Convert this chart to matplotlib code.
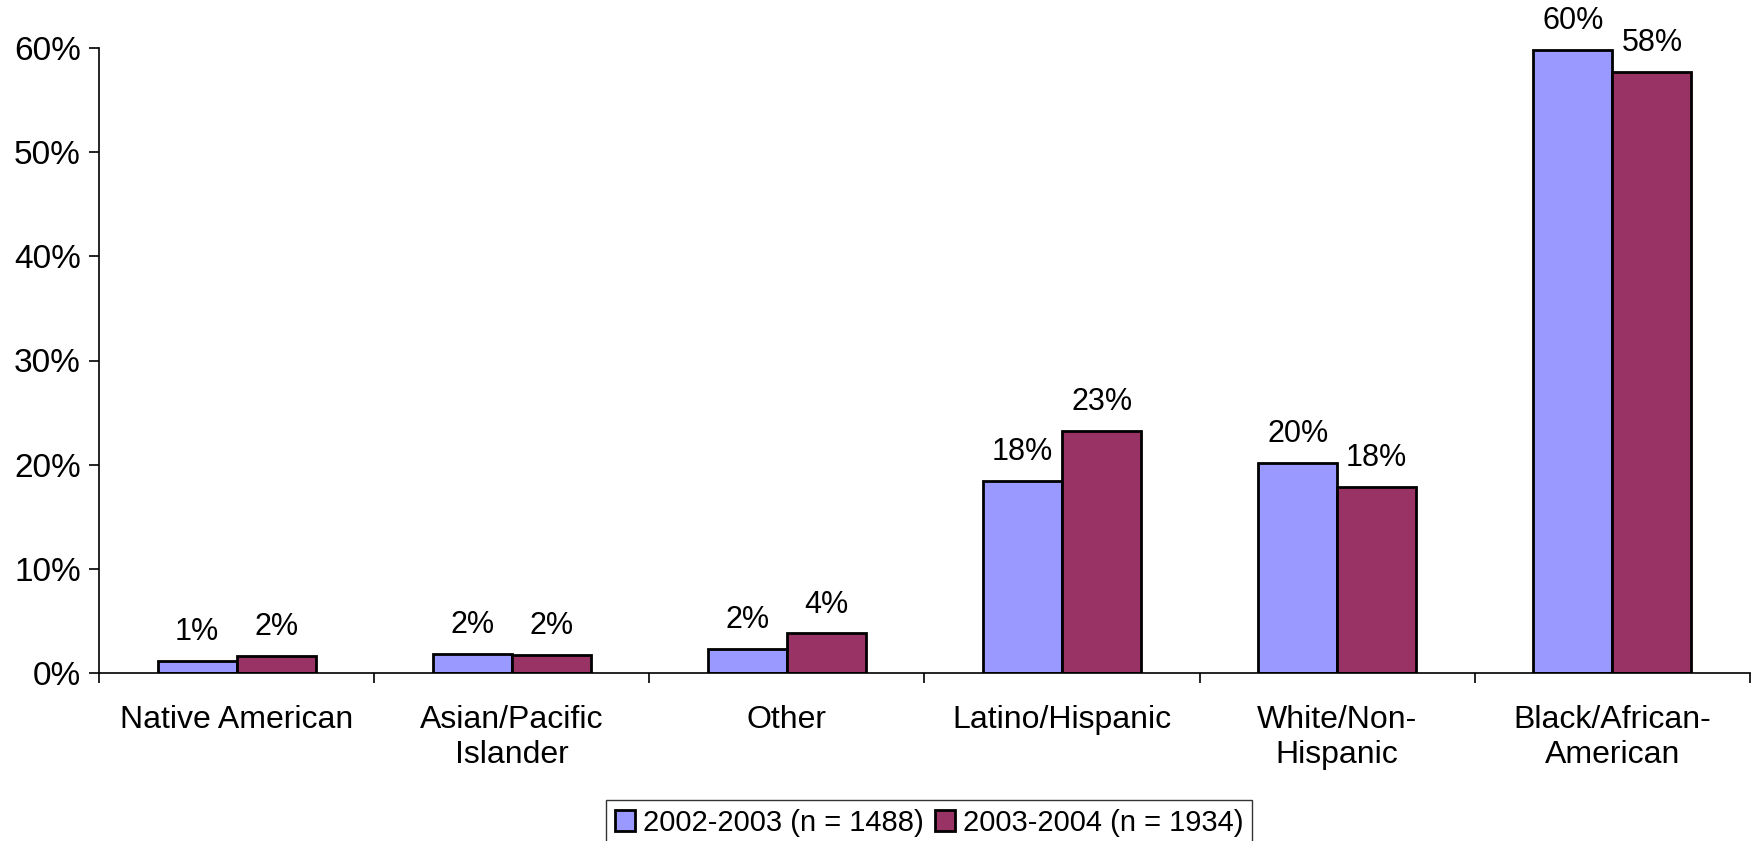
import numpy as np
import matplotlib.pyplot as plt

plt.rcParams['font.family'] = ['Liberation Sans', 'DejaVu Sans']

# data
categories = ['Native American', 'Asian/Pacific\nIslander', 'Other', 'Latino/Hispanic',
              'White/Non-\nHispanic', 'Black/African-\nAmerican']
y2002 = [1.2, 1.8, 2.3, 18.4, 20.2, 59.8]
y2003 = [1.6, 1.7, 3.8, 23.2, 17.9, 57.7]
series_names = ['2002-2003 (n = 1488)', '2003-2004 (n = 1934)']
yticks = [0, 10, 20, 30, 40, 50, 60]

fig = plt.figure(figsize=(17.64, 8.41), dpi=100)
ax = fig.add_axes([99/1764, (841-673)/841, 1651/1764, 625/841])

x = np.arange(len(categories))
w = 0.287
b1 = ax.bar(x - w/2, y2002, w, color='#9999FF', edgecolor='black', linewidth=2, label=series_names[0])
b2 = ax.bar(x + w/2, y2003, w, color='#993366', edgecolor='black', linewidth=2, label=series_names[1])

for bars, vals in ((b1, y2002), (b2, y2003)):
    for r, v in zip(bars, vals):
        ax.annotate('%d%%' % round(v), (r.get_x() + r.get_width()/2, r.get_height()),
                    xytext=(0, 10), textcoords='offset points', ha='center', va='bottom', fontsize=22)

ax.set_xlim(-0.5, len(categories) - 0.5)
ax.set_ylim(0, 60)
ax.set_yticks(yticks)
ax.set_yticklabels(['%d%%' % t for t in yticks], fontsize=24)
ax.tick_params(axis='y', direction='out', length=7, width=1.2, pad=6)

# category labels centred, ticks on the boundaries
ax.set_xticks(np.arange(len(categories) + 1) - 0.5)
ax.set_xticklabels([])
ax.set_xticks(x, minor=True)
ax.set_xticklabels(categories, minor=True, fontsize=23, linespacing=1.2)
ax.tick_params(axis='x', which='major', direction='out', length=7, width=1.2)
ax.tick_params(axis='x', which='minor', length=0, pad=23)

for s in ('top', 'right'):
    ax.spines[s].set_visible(False)
for s in ('left', 'bottom'):
    ax.spines[s].set_linewidth(1.2)

leg = fig.legend(loc='upper center', bbox_to_anchor=(929/1764, 41/841), ncol=2, fontsize=21,
                 frameon=True, fancybox=False, edgecolor='black', handlelength=0.7,
                 handleheight=0.7, handletextpad=0.25, columnspacing=0.4, borderpad=0.3,
                 borderaxespad=0)
leg.get_frame().set_linewidth(1.0)

fig.savefig('out.png', dpi=100, facecolor='white')
